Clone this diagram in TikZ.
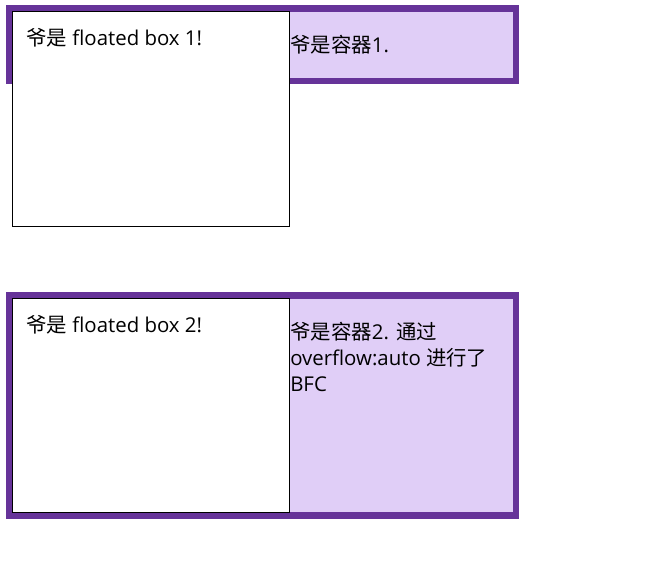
\documentclass[tikz,border=0pt]{standalone}
\usepackage{fontspec}
\setmainfont{Open Sans}
\newfontfamily\cjk{Noto Sans CJK SC}
\definecolor{rpurple}{HTML}{663399}
\definecolor{lpurple}{RGB}{224,206,247}
\tikzset{
  container/.style={fill=lpurple, draw=rpurple, line width=6.25*0.75pt},
  floatbox/.style={fill=white, draw=black, line width=0.75pt},
  txt/.style={anchor=base west, inner sep=0pt, font=\fontsize{15.3pt}{19.5pt}\selectfont},
}
\begin{document}
\begin{tikzpicture}[x=0.75pt, y=-0.75pt]
\useasboundingbox (0,0) rectangle (662,581);
% container 1
\draw[container] (9.1,8.6) rectangle (515.9,80.8);
\draw[floatbox] (12.4,11.8) rectangle (289.6,226.2);
\node[txt] (f1) at (26,46) {{\cjk 爷是} floated box 1!};
\node[txt] (c1) at (290,53) {{\cjk 爷是容器}1.};
% container 2
\draw[container] (9.1,295.4) rectangle (515.9,515.6);
\draw[floatbox] (12.4,298.6) rectangle (289.6,513);
\node[txt] (f2) at (26,333) {{\cjk 爷是} floated box 2!};
\node[txt] (c2a) at (290,339.5) {{\cjk 爷是容器}2. {\cjk 通过}};
\node[txt] (c2b) at (290,365.5) {overflow:auto {\cjk 进行了}};
\node[txt] (c2c) at (290,391.5) {BFC};
\end{tikzpicture}
\end{document}
